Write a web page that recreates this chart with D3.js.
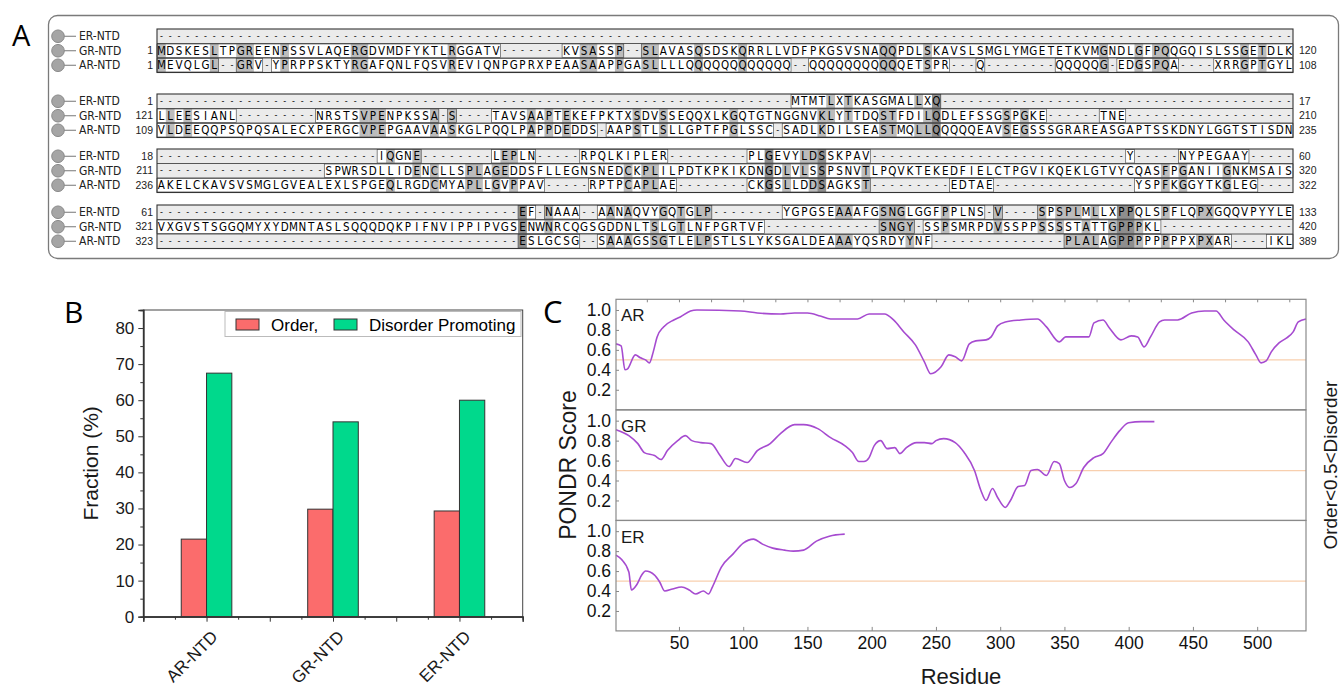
<!DOCTYPE html>
<html lang="en">
<head>
<meta charset="UTF-8">
<title>NTD alignment, composition and PONDR</title>
<script src="https://d3js.org/d3.v7.min.js"></script>
<style>
  body { margin: 0; background: #fff; }
  svg { display: block; font-family: "Liberation Sans", Arial, sans-serif; }
</style>
</head>
<body>
<div id="chart"></div>
<script>
// gap run in an aligned row
const g = n => "-".repeat(n);

// ---- A: alignment rows (4 blocks of 129 columns) ----
const seqNames = ["ER-NTD", "GR-NTD", "AR-NTD"];
const erRows = [
  "",
  g(72) + "MTMTLXTKASGMALLXQ" + g(40),
  g(25) + "IQGNE" + g(8) + "LEPLN" + g(5) + "RPQLKIPLER" + g(9) + "PLGEVYLDSSKPAV" + g(29) + "Y" + g(5) + "NYPEGAAY" + g(5),
  g(41) + "EF-NAAA--AANAQVYGQTGLP" + g(8) + "YGPGSEAAAFGSNGLGGFPPLNS-V----SPSPLMLLXPPQLSPFLQPXGQQVPYYLE"
];
const grRows = [
  "MDSKESLTPGREENPSSVLAQERGDVMDFYKTLRGGATV" + g(7) + "KVSASSP--SLAVASQSDSKQRRLLVDFPKGSVSNAQQPDLSKAVSLSMGLYMGETETKVMGNDLGFPQQGQISLSSGETDLK",
  "LLEESIANL" + g(9) + "NRSTSVPENPKSSA-S" + g(4) + "TAVSAAPTEKEFPKTXSDVSSEQQXLKGQTGTNGGNVKLYTTDQSTFDILQDLEFSSGSPGKE" + g(6) + "TNE" + g(19),
  g(19) + "SPWRSDLLIDENCLLSPLAGEDDSFLLEGNSNEDCKPLILPDTKPKIKDNGDLVLSSPSNVTLPQVKTEKEDFIELCTPGVIKQEKLGTVYCQASFPGANIIGNKMSAIS",
  "VXGVSTSGGQMYXYDMNTASLSQQQDQKPIFNVIPPIPVGSENWNRCQGSGDDNLTSLGTLNFPGRTVF" + g(13) + "SNGY-SSPSMRPDVSSPPSSSSTATTGPPPKL" + g(15)
];
const arRows = [
  "MEVQLGL--GRV-YPRPPSKTYRGAFQNLFQSVREVIQNPGPRXPEAASAAPPGASLLLLQQQQQQQQQQQQ--QQQQQQQQQQQETSPR---Q" + g(8) + "QQQQQG-EDGSPQA----XRRGPTGYL",
  "VLDEEQQPSQPQSALECXPERGCVPEPGAAVAASKGLPQQLPAPPDEDDS-AAPSTLSLLGPTFPGLSSC-SADLKDILSEASTMQLLQQQQQEAVSEGSSSGRAREASGAPTSSKDNYLGGTSTISDN",
  "AKELCKAVSVSMGLGVEALEXLSPGEQLRGDCMYAPLLGVPPAV" + g(5) + "RPTPCAPLAE" + g(8) + "CKGSLLDDSAGKST" + g(9) + "EDTAE" + g(16) + "YSPFKGGYTKGLEG" + g(4),
  g(41) + "ESLGCSG--SAAAGSSGTLELPSTLSLYKSGALDEAAAYQSRDYYNF" + g(15) + "PLALAGPPPPPPPPXPXAR----IKL"
];
const erStart = [null, 1, 18, 61], erEnd = [null, 17, 60, 133];
const grStart = [1, 121, 211, 321], grEnd = [120, 210, 320, 420];
const arStart = [1, 109, 236, 323], arEnd = [108, 235, 322, 389];

// ---- B: composition ----
const ntdNames = ["AR-NTD", "GR-NTD", "ER-NTD"];
const orderFrac = [21.5, 29.8, 29.3];
const disorderFrac = [67.5, 54.0, 60.0];
const fracTicks = [0, 10, 20, 30, 40, 50, 60, 70, 80];

// ---- C: PONDR score vs residue ----
const arPondr = [[1,0.66],[5,0.64],[8,0.40],[10,0.41],[16,0.55],[20,0.52],[24,0.50],[27,0.47],[30,0.58],[33,0.73],[38,0.83],[46,0.90],[51,0.93],[59,0.99],[64,1.0],[98,0.99],[111,0.97],[129,0.96],[140,0.97],[150,0.97],[160,0.94],[168,0.91],[189,0.91],[198,0.96],[210,0.96],[217,0.90],[225,0.78],[234,0.65],[241,0.48],[246,0.36],[254,0.43],[260,0.55],[265,0.53],[270,0.49],[276,0.66],[281,0.69],[289,0.70],[293,0.73],[298,0.84],[304,0.88],[316,0.90],[329,0.91],[336,0.83],[346,0.68],[351,0.73],[360,0.73],[369,0.73],[373,0.87],[380,0.90],[385,0.82],[394,0.70],[402,0.74],[407,0.73],[412,0.63],[417,0.73],[424,0.88],[428,0.90],[438,0.90],[449,0.97],[459,0.99],[468,0.99],[474,0.90],[482,0.80],[493,0.68],[499,0.55],[503,0.47],[507,0.49],[511,0.58],[517,0.67],[523,0.72],[528,0.78],[532,0.88],[538,0.91]];
const grPondr = [[1,0.91],[11,0.85],[18,0.77],[23,0.68],[31,0.65],[36,0.61],[41,0.70],[49,0.80],[55,0.85],[60,0.80],[67,0.78],[75,0.77],[82,0.65],[89,0.54],[94,0.62],[103,0.58],[111,0.70],[121,0.77],[129,0.87],[140,0.96],[147,0.96],[158,0.92],[168,0.83],[179,0.75],[185,0.68],[190,0.59],[194,0.59],[198,0.63],[202,0.75],[207,0.80],[212,0.72],[218,0.73],[222,0.67],[227,0.73],[235,0.78],[241,0.78],[247,0.77],[250,0.80],[256,0.82],[265,0.78],[272,0.68],[280,0.50],[285,0.30],[289,0.20],[294,0.32],[298,0.23],[304,0.13],[308,0.20],[314,0.34],[319,0.35],[324,0.50],[329,0.51],[336,0.45],[342,0.59],[346,0.57],[350,0.40],[354,0.33],[359,0.37],[365,0.53],[373,0.63],[380,0.67],[386,0.78],[393,0.90],[400,0.98],[410,0.99],[420,0.99]];
const erPondr = [[1,0.76],[5,0.72],[11,0.59],[13,0.41],[17,0.46],[21,0.56],[24,0.60],[31,0.56],[35,0.49],[39,0.40],[45,0.42],[52,0.44],[58,0.41],[63,0.37],[69,0.40],[73,0.37],[76,0.44],[83,0.64],[92,0.77],[100,0.88],[108,0.92],[115,0.87],[123,0.83],[132,0.81],[139,0.80],[147,0.81],[157,0.90],[167,0.95],[179,0.97]];
const pondrNames = ["AR", "GR", "ER"];
const residueTicks = [50, 100, 150, 200, 250, 300, 350, 400, 450, 500];
const scoreTicks = [0.2, 0.4, 0.6, 0.8, 1.0];

const svg = d3.select("#chart").append("svg")
  .attr("width", 1342)
  .attr("height", 687);

function drawAlignment() {
  const nCols = 129;
  const rowH = 14.5;
  const blockTop = [29, 94, 149, 205];
  const x = d3.scaleBand().domain(d3.range(nCols)).range([157, 1293]);
  const gA = svg.append("g");

  gA.append("rect")
    .attr("x", 48.5).attr("y", 15.5).attr("width", 1290).attr("height", 243)
    .attr("rx", 9).attr("fill", "#fff").attr("stroke", "#7a7a7a").attr("stroke-width", 1.3);
  gA.append("text").attr("x", 12).attr("y", 46)
    .style("font-family", "'Open Sans', sans-serif").style("font-size", "29px").text("A");

  blockTop.forEach((top, b) => {
    const rows = [erRows[b], grRows[b], arRows[b]].map(s => (s + g(nCols)).slice(0, nCols));
    const starts = [erStart[b], grStart[b], arStart[b]];
    const ends = [erEnd[b], grEnd[b], arEnd[b]];
    const blk = gA.append("g");

    rows.forEach((row, i) => {
      const y0 = top + i * rowH;
      const cy = y0 + rowH / 2;
      blk.append("rect")
        .attr("x", x(0)).attr("y", y0).attr("width", x.step() * nCols).attr("height", rowH)
        .attr("fill", "#ebebeb");

      const cells = d3.range(nCols).filter(c => row[c] !== "-");
      blk.selectAll(null).data(cells).enter().append("rect")
        .attr("x", c => x(c)).attr("y", y0)
        .attr("width", x.bandwidth() + 0.3).attr("height", rowH)
        .attr("fill", c => {
          const same = rows.filter((r, k) => k !== i && r[c] === row[c]).length;
          return same === 2 ? "#8e8e8e" : same === 1 ? "#bcbcbc" : "#fff";
        });

      // outline each contiguous run of residues
      const runs = [];
      cells.forEach(c => {
        const last = runs[runs.length - 1];
        if (last && last[1] === c - 1) last[1] = c; else runs.push([c, c]);
      });
      blk.selectAll(null).data(runs).enter().append("rect")
        .attr("x", r => x(r[0])).attr("y", y0 + 0.5)
        .attr("width", r => x(r[1]) + x.bandwidth() - x(r[0])).attr("height", rowH - 1)
        .attr("fill", "none").attr("stroke", "#555").attr("stroke-width", 0.7);

      blk.selectAll(null).data(row.split("").map((ch, c) => ({ ch, c }))).enter().append("text")
        .attr("x", d => x(d.c) + x.bandwidth() / 2)
        .attr("y", cy)
        .attr("dy", d => d.ch === "-" ? "0.3em" : "0.36em")
        .attr("text-anchor", "middle")
        .style("font-family", "'Liberation Sans Narrow', 'DejaVu Sans Condensed', sans-serif")
        .style("font-size", d => d.ch === "-" ? "9px" : "11.5px")
        .attr("fill", "#000")
        .text(d => d.ch);

      // name with the grey ball
      blk.append("line").attr("x1", 62).attr("x2", 76).attr("y1", cy).attr("y2", cy)
        .attr("stroke", "#777").attr("stroke-width", 1);
      blk.append("circle").attr("cx", 58).attr("cy", cy).attr("r", 6.3)
        .attr("fill", "#a5a5a5").attr("stroke", "#8a8a8a");
      blk.append("text").attr("x", 79).attr("y", cy).attr("dy", "0.35em")
        .style("font-family", "'Liberation Sans Narrow', 'DejaVu Sans Condensed', sans-serif")
        .style("font-size", "12px").attr("fill", "#222").text(seqNames[i]);

      if (starts[i] !== null) {
        blk.append("text").attr("x", 153).attr("y", cy).attr("dy", "0.35em")
          .attr("text-anchor", "end").style("font-size", "10.5px").attr("fill", "#222").text(starts[i]);
        blk.append("text").attr("x", 1299).attr("y", cy).attr("dy", "0.35em")
          .style("font-size", "10.5px").attr("fill", "#222").text(ends[i]);
      }
      if (i > 0) {
        blk.append("line").attr("x1", x(0)).attr("x2", x(0) + x.step() * nCols)
          .attr("y1", y0).attr("y2", y0).attr("stroke", "#444").attr("stroke-width", 0.9);
      }
    });

    blk.append("rect")
      .attr("x", x(0)).attr("y", top).attr("width", x.step() * nCols).attr("height", rowH * 3)
      .attr("fill", "none").attr("stroke", "#333").attr("stroke-width", 1.1);
  });
}

function drawBars() {
  const xB = d3.scaleLinear().domain([0.5, 3.5]).range([143.3, 522.7]);
  const yB = d3.scaleLinear().domain([0, 85]).range([616.7, 310]);
  const gB = svg.append("g");
  const barW = 0.2;

  gB.append("text").attr("x", 64).attr("y", 323)
    .style("font-family", "'Open Sans', sans-serif").style("font-size", "30px").text("B");

  gB.selectAll(".ord").data(orderFrac).enter().append("rect")
    .attr("x", (d, i) => xB(i + 1 - barW)).attr("width", xB(1) - xB(1 - barW))
    .attr("y", d => yB(d)).attr("height", d => yB(0) - yB(d))
    .attr("fill", "#fb6c6c").attr("stroke", "#333").attr("stroke-width", 1);
  gB.selectAll(".dis").data(disorderFrac).enter().append("rect")
    .attr("x", (d, i) => xB(i + 1)).attr("width", xB(1) - xB(1 - barW))
    .attr("y", d => yB(d)).attr("height", d => yB(0) - yB(d))
    .attr("fill", "#00d98c").attr("stroke", "#333").attr("stroke-width", 1);

  gB.append("rect")
    .attr("x", xB(0.5)).attr("y", yB(85)).attr("width", xB(3.5) - xB(0.5)).attr("height", yB(0) - yB(85))
    .attr("fill", "none").attr("stroke", "#444").attr("stroke-width", 1);

  const yAx = gB.append("g").attr("transform", `translate(${xB(0.5)},0)`)
    .call(d3.axisLeft(yB).tickValues(fracTicks).tickSize(5).tickPadding(4));
  gB.append("g").attr("transform", `translate(${xB(0.5)},0)`)
    .call(d3.axisLeft(yB).tickValues(d3.range(5, 85, 10)).tickSize(3).tickFormat(""));
  gB.append("g").attr("transform", `translate(0,${yB(0)})`)
    .call(d3.axisBottom(xB).tickValues([0.5, 1, 1.5, 2, 2.5, 3, 3.5]).tickSize(5).tickFormat(""));
  gB.append("g").attr("transform", `translate(0,${yB(0)})`)
    .call(d3.axisBottom(xB).tickValues([0.75, 1.25, 1.75, 2.25, 2.75, 3.25]).tickSize(3).tickFormat(""));
  gB.selectAll(".domain").attr("stroke", "#333").attr("stroke-width", 1.3);
  gB.selectAll(".tick line").attr("stroke", "#333");
  yAx.selectAll("text").style("font-size", "17px").attr("fill", "#1a1a1a");

  gB.selectAll(".xl").data(ntdNames).enter().append("text")
    .attr("transform", (d, i) => `translate(${xB(i + 1) + 8},${yB(0) + 17}) rotate(-45)`)
    .attr("text-anchor", "end").attr("dy", "0.35em")
    .style("font-size", "17px").attr("fill", "#1a1a1a").text(d => d);

  gB.append("text")
    .attr("transform", `translate(98,${(yB(0) + yB(85)) / 2}) rotate(-90)`)
    .attr("text-anchor", "middle").style("font-size", "21px").attr("fill", "#1a1a1a")
    .text("Fraction (%)");

  // legend
  const lg = gB.append("g");
  lg.append("rect").attr("x", 225).attr("y", 311.5).attr("width", 296).attr("height", 25)
    .attr("fill", "#fff").attr("stroke", "#bbb");
  lg.append("rect").attr("x", 236).attr("y", 319).attr("width", 23).attr("height", 11)
    .attr("fill", "#fb6c6c").attr("stroke", "#333");
  lg.append("text").attr("x", 271).attr("y", 330.5).style("font-size", "17px").text("Order,");
  lg.append("rect").attr("x", 334).attr("y", 319).attr("width", 23).attr("height", 11)
    .attr("fill", "#00d98c").attr("stroke", "#333");
  lg.append("text").attr("x", 369).attr("y", 330.5).style("font-size", "17px").text("Disorder Promoting");
}

function drawPondr() {
  const left = 616, right = 1306;
  const panelTop = [299.3, 410, 520.5];
  const panelH = 110.4;
  const xC = d3.scaleLinear().domain([1, 538]).range([left, right]);
  const gC = svg.append("g");
  const series = [arPondr, grPondr, erPondr];

  gC.append("text").attr("x", 543).attr("y", 323)
    .style("font-family", "'Open Sans', sans-serif").style("font-size", "31px").text("C");

  series.forEach((pts, k) => {
    const yC = d3.scaleLinear().domain([0, 1.107]).range([panelTop[k] + panelH, panelTop[k]]);
    const p = gC.append("g");

    p.append("line").attr("x1", left).attr("x2", right).attr("y1", yC(0.5)).attr("y2", yC(0.5))
      .attr("stroke", "#f8cfae").attr("stroke-width", 1.2);

    p.append("path").datum(pts)
      .attr("fill", "none").attr("stroke", "#a64bd0").attr("stroke-width", 1.6)
      .attr("d", d3.line().x(d => xC(d[0])).y(d => yC(d[1])).curve(d3.curveMonotoneX));

    const ax = p.append("g").attr("transform", `translate(${left},0)`)
      .call(d3.axisLeft(yC).tickValues(scoreTicks).tickFormat(d3.format(".1f")).tickSizeInner(-3).tickSizeOuter(0).tickPadding(5));
    ax.select(".domain").remove();
    ax.selectAll("text").style("font-size", "17.5px").attr("fill", "#111");
    ax.selectAll("line").attr("stroke", "#888");

    p.append("text").attr("x", 621).attr("y", panelTop[k] + 22)
      .style("font-size", "17px").attr("fill", "#1a1a1a").text(pondrNames[k]);

    p.append("rect").attr("x", left).attr("y", panelTop[k]).attr("width", right - left).attr("height", panelH)
      .attr("fill", "none").attr("stroke", "#8a8a8a").attr("stroke-width", 1.2);
  });

  const bottom = panelTop[2] + panelH;
  const xAx = gC.append("g").attr("transform", `translate(0,${bottom})`)
    .call(d3.axisBottom(xC).tickValues(residueTicks).tickSizeInner(-4).tickSizeOuter(0).tickPadding(6));
  xAx.select(".domain").remove();
  xAx.selectAll("text").style("font-size", "17.5px").attr("fill", "#111");
  xAx.selectAll("line").attr("stroke", "#888");
  const topAx = gC.append("g").attr("transform", `translate(0,${panelTop[0]})`)
    .call(d3.axisTop(xC).tickValues(d3.range(25, 538, 25)).tickSizeInner(-3).tickSizeOuter(0).tickFormat(""));
  topAx.select(".domain").remove();
  topAx.selectAll("line").attr("stroke", "#888");

  gC.append("text").attr("x", 961).attr("y", 684).attr("text-anchor", "middle")
    .style("font-size", "22px").attr("fill", "#1a1a1a").text("Residue");
  gC.append("text")
    .attr("transform", `translate(576,${(panelTop[0] + bottom) / 2}) rotate(-90)`)
    .attr("text-anchor", "middle").style("font-size", "23px").attr("fill", "#1a1a1a").text("PONDR Score");
  gC.append("text")
    .attr("transform", `translate(1337,${(panelTop[0] + bottom) / 2}) rotate(-90)`)
    .attr("text-anchor", "middle").style("font-size", "19px").attr("fill", "#1a1a1a").text("Order<0.5<Disorder");
}

drawAlignment();
drawBars();
drawPondr();
</script>
</body>
</html>
